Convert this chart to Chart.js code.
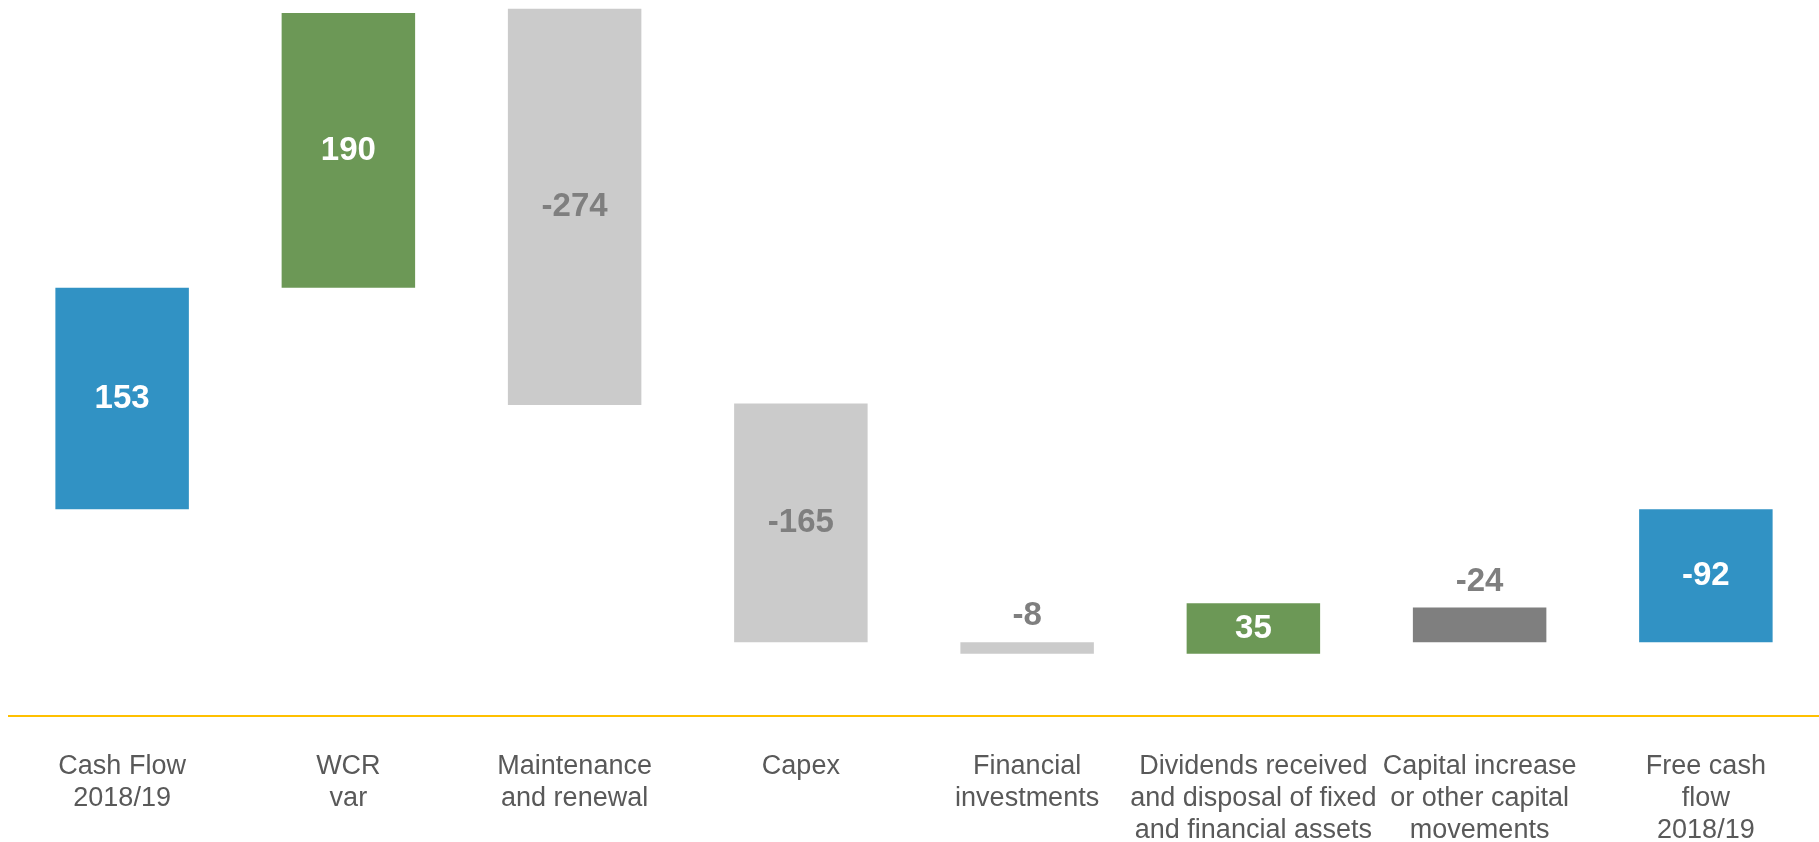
<!DOCTYPE html>
<html lang="en">
<head>
    <meta charset="UTF-8">
    <title>Free cash flow 2018/19</title>
    <script src="https://cdn.jsdelivr.net/npm/chart.js"></script>
    <style>
        body { margin: 0; background: #fff; }
        #wrap { width: 1819px; height: 842px; }
    </style>
</head>
<body>
    <div id="wrap"><canvas id="bridge"></canvas></div>
    <script>
        const categories = [
            ['Cash Flow', '2018/19'],
            ['WCR', 'var'],
            ['Maintenance', 'and renewal'],
            ['Capex'],
            ['Financial', 'investments'],
            ['Dividends received', 'and disposal of fixed', 'and financial assets'],
            ['Capital increase', 'or other capital', 'movements'],
            ['Free cash', 'flow', '2018/19']
        ];
        // where each step starts, and how much it moves
        const barStarts = [0, 153, 346, 73, -92, -100, -68, 0];
        const barValues = [153, 190, -274, -165, -8, 35, -24, -92];
        const barKinds = ['total', 'up', 'down', 'down', 'down', 'up', 'other', 'total'];

        const kindColors = { total: '#3192C4', up: '#6C9856', down: '#CBCBCB', other: '#7F7F7F' };
        const FONT = '"Liberation Sans", Arial, sans-serif';

        const floating = barStarts.map((s, i) => [s, s + barValues[i]]);

        // value labels: in the middle of the bar, or above it when the bar is thin
        const valueLabels = {
            id: 'valueLabels',
            afterDatasetsDraw(chart) {
                const ctx = chart.ctx;
                const meta = chart.getDatasetMeta(0);
                ctx.save();
                ctx.font = 'bold 33px ' + FONT;
                ctx.textAlign = 'center';
                ctx.textBaseline = 'middle';
                meta.data.forEach((bar, i) => {
                    const { x, y, base } = bar.getProps(['x', 'y', 'base'], true);
                    const top = Math.min(y, base);
                    const h = Math.abs(base - y);
                    const kind = barKinds[i];
                    let ty, color;
                    if (h < 45) {
                        ty = top - 26;
                        color = '#7F7F7F';
                    } else {
                        ty = (y + base) / 2;
                        color = (kind === 'total' || kind === 'up') ? '#FFFFFF' : '#7F7F7F';
                    }
                    ctx.fillStyle = color;
                    ctx.fillText(String(barValues[i]), x, ty);
                });
                ctx.restore();
            }
        };

        new Chart(document.getElementById('bridge'), {
            type: 'bar',
            data: {
                labels: categories,
                datasets: [{
                    data: floating,
                    backgroundColor: barKinds.map(k => kindColors[k]),
                    borderWidth: 0,
                    barPercentage: 0.59,
                    categoryPercentage: 1
                }]
            },
            options: {
                responsive: true,
                maintainAspectRatio: false,
                animation: false,
                layout: { padding: { left: 9, right: 0, top: 0, bottom: 0 } },
                plugins: {
                    legend: { display: false },
                    tooltip: { enabled: false }
                },
                scales: {
                    x: {
                        grid: { display: false, drawTicks: false },
                        border: { display: true, color: '#FFC000', width: 2 },
                        ticks: {
                            color: '#595959',
                            padding: 35,
                            maxRotation: 0,
                            autoSkip: false,
                            font: { family: FONT, size: 27, lineHeight: 1.18 }
                        },
                        afterFit(scale) { scale.height = 126; }
                    },
                    y: {
                        display: false,
                        min: -143,
                        max: 352
                    }
                }
            },
            plugins: [valueLabels]
        });
    </script>
</body>
</html>
